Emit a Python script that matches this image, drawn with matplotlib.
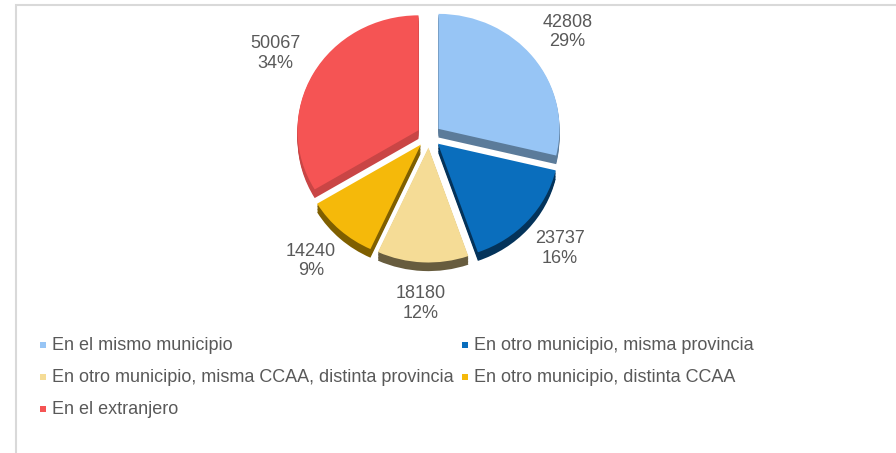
import numpy as np
import matplotlib.pyplot as plt
from matplotlib.patches import Rectangle

plt.rcParams['font.family'] = ['Liberation Sans', 'DejaVu Sans']

# ---------------- DATA ----------------
categories = [
    "En el mismo municipio",
    "En otro municipio, misma provincia",
    "En otro municipio, misma CCAA, distinta provincia",
    "En otro municipio, distinta CCAA",
    "En el extranjero",
]
values = [42808, 23737, 18180, 14240, 50067]
pct_labels = ["29%", "16%", "12%", "9%", "34%"]

colors = ["#97C5F5", "#0A6EBD", "#F5DC96", "#F5B90A", "#F55454"]
side_colors = ["#5B7B9A", "#04335A", "#675C3E", "#7F5F00", "#C94545"]

W, H = 896, 453
fig = plt.figure(figsize=(W / 100, H / 100), dpi=100)

# pie centre / radii in pixels
cx, cy = 429, H - 136
rx, ry = 121, 115
ax = fig.add_axes([(cx - 1.6 * rx) / W, (cy - 1.6 * ry) / H, 3.2 * rx / W, 3.2 * ry / H])

explode = [0.1] * len(values)
depth = 0.075

# side walls: stacked darker copies below the top surface
for k in np.linspace(depth, 0.01, 6):
    ax.pie(values, colors=side_colors, explode=explode, startangle=90,
           counterclock=False, center=(0, -k), wedgeprops=dict(linewidth=0))

wedges, _ = ax.pie(values, colors=colors, explode=explode, startangle=90,
                   counterclock=False, wedgeprops=dict(linewidth=0))

ax.set_aspect('auto')
ax.set_xlim(-1.6, 1.6)
ax.set_ylim(-1.6, 1.6)
ax.axis('off')

# data labels
for w, v, p in zip(wedges, values, pct_labels):
    ang = np.deg2rad((w.theta1 + w.theta2) / 2)
    x0, y0 = w.center
    ax.text(x0 + 1.36 * np.cos(ang), y0 + 1.36 * np.sin(ang), f"{v}\n{p}",
            ha='center', va='center', fontsize=13, color='#595959',
            linespacing=1.2)

# legend, row-wise, two columns
col_x = [43, 465]
row_y = [345, 377, 409]
for i, (lab, c) in enumerate(zip(categories, colors)):
    x = col_x[i % 2]
    y = row_y[i // 2]
    fig.add_artist(Rectangle(((x - 3) / W, (H - y - 3) / H), 6 / W, 6 / H,
                             transform=fig.transFigure, facecolor=c,
                             edgecolor='none'))
    fig.text((x + 9) / W, (H - y) / H, lab, ha='left', va='center',
             fontsize=13, color='#595959')

# chart frame (only top and left edges visible)
fig.add_artist(Rectangle((15.5 / W, -0.1), 1.2, 1 - 5.5 / H + 0.1,
                         transform=fig.transFigure, facecolor='none',
                         edgecolor='#D9D9D9', linewidth=1.5))

fig.savefig("out.png", dpi=100)
